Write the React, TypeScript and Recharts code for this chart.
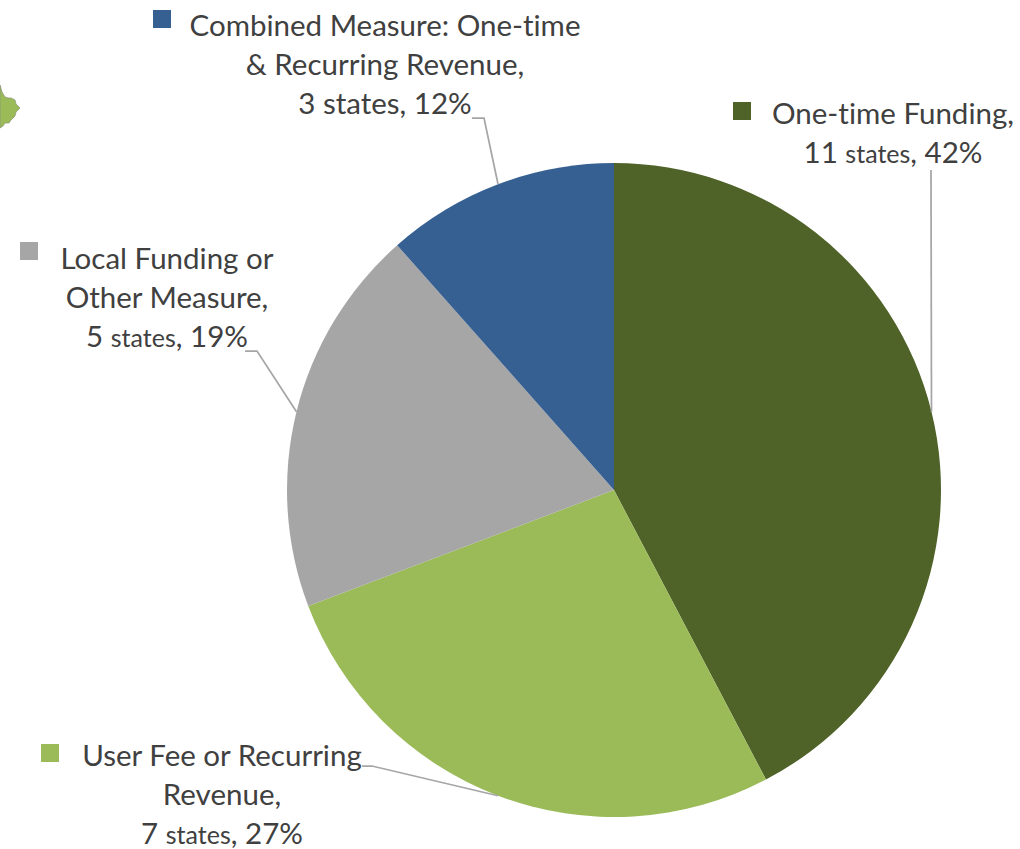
import { Cell, Pie, PieChart } from "recharts";

const categories = [
  "One-time Funding",
  "User Fee or Recurring Revenue",
  "Local Funding or Other Measure",
  "Combined Measure: One-time & Recurring Revenue",
];
const states = [11, 7, 5, 3];
const shares = ["42%", "27%", "19%", "12%"];
const colors = ["#4F6228", "#9BBB59", "#A6A6A6", "#376092"];

// the name part of each label, as wrapped in the picture
const nameLines = [
  ["One-time Funding,"],
  ["User Fee or Recurring", "Revenue,"],
  ["Local Funding or", "Other Measure,"],
  ["Combined Measure: One-time", "& Recurring Revenue,"],
];
const statesWordSize = [25, 25, 25, 29.5];

// label placement: centre of text, first baseline, legend square, leader elbow
const labelLayout = [
  { x: 893, y: 124, key: [733, 102], elbow: [[931, 170], [931, 170]] },
  { x: 222, y: 766, key: [41, 744], elbow: [[362, 766], [372, 766]] },
  { x: 167, y: 269, key: [20, 242], elbow: [[245, 351], [257, 351]] },
  { x: 385, y: 36, key: [153, 10], elbow: [[472, 118], [484, 118]] },
];

const LINE_HEIGHT = 39;
const FONT_SIZE = 29.5;
const RAD = Math.PI / 180;

const data = categories.map((name, i) => ({ name, value: states[i] }));

function renderLabel(props: any) {
  const { cx, cy, midAngle, outerRadius, index } = props;
  const layout = labelLayout[index];
  const lines = nameLines[index];
  const endX = cx + outerRadius * Math.cos(-midAngle * RAD);
  const endY = cy + outerRadius * Math.sin(-midAngle * RAD);
  const [a, b] = layout.elbow;
  return (
    <g key={index}>
      <polyline
        points={`${a[0]},${a[1]} ${b[0]},${b[1]} ${endX},${endY}`}
        fill="none"
        stroke="#A6A6A6"
        strokeWidth={1.75}
      />
      <rect x={layout.key[0]} y={layout.key[1]} width={18} height={18} fill={colors[index]} />
      <text
        textAnchor="middle"
        fontFamily="Lato, sans-serif"
        fontSize={FONT_SIZE}
        fill="#404040"
        style={{ fontVariantLigatures: "none" }}
      >
        {lines.map((line, i) => (
          <tspan key={line} x={layout.x} y={layout.y + i * LINE_HEIGHT}>
            {line}
          </tspan>
        ))}
        <tspan x={layout.x} y={layout.y + lines.length * LINE_HEIGHT}>
          {states[index]}{" "}
          <tspan fontSize={statesWordSize[index]}>states</tspan>, {shares[index]}
        </tspan>
      </text>
    </g>
  );
}

export default function App() {
  return (
    <div style={{ position: "absolute", left: 0, top: 0, width: 1020, height: 849 }}>
      <PieChart width={1020} height={849} margin={{ top: 0, right: 0, bottom: 0, left: 0 }}>
        {/* stray map fragment at the left edge of the source image */}
        <path
          d="M0,85 L2,92 L5,97 L8,98 L11,98 L15,100 L16,104 L20,108 L16,112 L15,116 L11,120 L9,123 L5,123 L3,126 L0,128 Z"
          fill="#9BBB59"
          stroke="#8a9a78"
          strokeWidth={0.75}
        />
        <Pie
          data={data}
          dataKey="value"
          nameKey="name"
          cx={614}
          cy={490}
          innerRadius={0}
          outerRadius={327}
          startAngle={90}
          endAngle={-270}
          stroke="none"
          label={renderLabel}
          labelLine={false}
          isAnimationActive={false}
        >
          {categories.map((name, i) => (
            <Cell key={name} fill={colors[i]} />
          ))}
        </Pie>
      </PieChart>
    </div>
  );
}
